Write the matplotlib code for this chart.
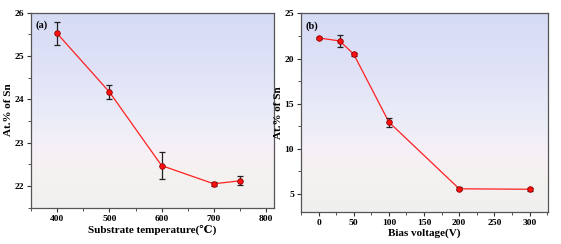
import numpy as np
import matplotlib
matplotlib.use("Agg")
import matplotlib.pyplot as plt
from matplotlib.colors import LinearSegmentedColormap
from matplotlib.ticker import AutoMinorLocator

# Data panel (a)
temp = [400, 500, 600, 700, 750]
sn_temp = [25.52, 24.17, 22.47, 22.05, 22.12]
err_temp = [0.26, 0.17, 0.32, 0.04, 0.10]

# Data panel (b)
bias = [0, 30, 50, 100, 200, 300]
sn_bias = [22.28, 21.95, 20.48, 12.95, 5.55, 5.50]
err_bias = [0.12, 0.70, 0.15, 0.50, 0.15, 0.18]

plt.rcParams['font.family'] = ['Liberation Serif', 'DejaVu Serif']
plt.rcParams['font.weight'] = 'bold'

fig = plt.figure(figsize=(5.61, 2.44), dpi=100)
ax1 = fig.add_axes([0.0553, 0.149, 0.433, 0.799])
ax2 = fig.add_axes([0.5365, 0.132, 0.44, 0.813])

bg = LinearSegmentedColormap.from_list('bg', [
    (0.0, (0.94, 0.94, 0.94)),
    (0.18, (0.96, 0.95, 0.94)),
    (0.30, (0.97, 0.94, 0.97)),
    (0.45, (0.92, 0.93, 0.97)),
    (0.70, (0.88, 0.89, 0.97)),
    (1.0, (0.84, 0.86, 0.96)),
])

def style(ax, xlim, ylim, xticks, yticks, xlabel, ylabel, tag):
    grad = np.linspace(0, 1, 256).reshape(-1, 1)
    ax.imshow(grad, cmap=bg, aspect='auto', origin='lower',
              extent=[0, 1, 0, 1], transform=ax.transAxes, zorder=0)
    ax.set_xlim(*xlim)
    ax.set_ylim(*ylim)
    ax.set_xticks(xticks)
    ax.set_yticks(yticks)
    ax.xaxis.set_minor_locator(AutoMinorLocator(2))
    ax.yaxis.set_minor_locator(AutoMinorLocator(2))
    ax.tick_params(which='major', direction='out', length=3, width=0.8,
                   labelsize=6.8, colors='#333333', labelcolor='black', pad=2)
    ax.tick_params(which='minor', direction='out', length=2, width=0.6,
                   colors='#333333')
    for s in ax.spines.values():
        s.set_color('#555555')
        s.set_linewidth(0.9)
    for lab in ax.get_xticklabels() + ax.get_yticklabels():
        lab.set_fontweight('bold')
    ax.set_xlabel(xlabel, fontsize=8, fontweight='bold', labelpad=1.5)
    ax.set_ylabel(ylabel, fontsize=8, fontweight='bold', labelpad=1)
    ax.text(0.02, 0.96, tag, transform=ax.transAxes, fontsize=7.5,
            fontweight='bold', va='top', ha='left')

style(ax1, (350, 815), (21.5, 26), [400, 500, 600, 700, 800],
      [22, 23, 24, 25, 26], 'Substrate temperature(℃)', 'At.% of Sn', '(a)')
style(ax2, (-25, 326), (3, 25), [0, 50, 100, 150, 200, 250, 300],
      [5, 10, 15, 20, 25], 'Bias voltage(V)', 'At.% of Sn', '(b)')

for ax, x, y, e in [(ax1, temp, sn_temp, err_temp), (ax2, bias, sn_bias, err_bias)]:
    ax.plot(x, y, color='#ff2020', lw=0.9, zorder=2)
    ax.errorbar(x, y, yerr=e, fmt='none', ecolor='#222222', elinewidth=0.9,
                capsize=2.2, capthick=0.9, zorder=3)
    ax.plot(x, y, 'o', ms=4, mfc='#ff1010', mec='#8b0000', mew=0.6,
            zorder=4, ls='none')

fig.savefig('out.png', dpi=100)
